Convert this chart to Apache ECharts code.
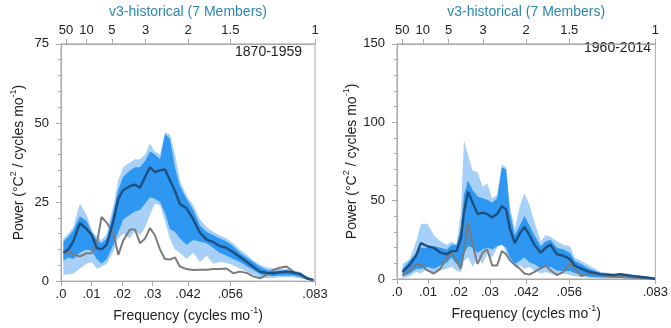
<!DOCTYPE html>
<html>
<head>
<meta charset="utf-8">
<script src="https://cdn.jsdelivr.net/npm/echarts@6/dist/echarts.min.js"></script>
<style>
html, body { margin: 0; padding: 0; background: #fff; }
#main { width: 671px; height: 328px; }
</style>
</head>
<body>
<div id="main"></div>
<script>
// 左图 1870-1959
var freqL = [0.0008, 0.0024, 0.0040, 0.0062, 0.0084, 0.0101, 0.0117, 0.0133, 0.0150, 0.0172,
	0.0188, 0.0204, 0.0226, 0.0243, 0.0259, 0.0276, 0.0292, 0.0308, 0.0325, 0.0341,
	0.0357, 0.0374, 0.0390, 0.0412, 0.0434, 0.0456, 0.0478, 0.0500, 0.0521, 0.0543,
	0.0565, 0.0587, 0.0609, 0.0631, 0.0653, 0.0675, 0.0696, 0.0718, 0.0740, 0.0762,
	0.0784, 0.0806, 0.0828];
var meanL = [9.0, 10.0, 12.5, 18.3, 16.5, 14.5, 10.5, 10.0, 11.5, 19.0,
	26.0, 28.8, 30.0, 30.5, 29.5, 33.0, 36.0, 34.5, 35.0, 35.3,
	32.0, 28.5, 24.4, 23.0, 19.5, 15.3, 13.1, 12.3, 11.1, 10.5,
	9.1, 7.6, 6.1, 4.5, 3.0, 2.6, 2.5, 2.8, 3.0, 2.7,
	2.3, 0.9, 0.3];
var obsL = [9.0, 9.3, 8.5, 7.8, 8.8, 8.8, 11.5, 20.3, 18.5, 15.0,
	8.3, 12.8, 16.3, 16.3, 12.0, 13.5, 16.8, 14.5, 10.0, 7.0,
	6.8, 7.5, 4.6, 3.8, 3.5, 3.6, 3.6, 3.8, 3.8, 4.0,
	2.5, 3.0, 2.6, 1.5, 0.9, 2.0, 3.5, 4.2, 4.6, 3.0,
	1.8, 0.9, 0.3];
var medHiL = [12.5, 14.0, 16.0, 20.5, 19.0, 15.5, 13.0, 12.0, 13.5, 22.0,
	29.0, 33.0, 35.0, 36.0, 36.0, 38.0, 41.0, 40.0, 38.5, 46.5,
	45.0, 36.0, 30.0, 26.0, 22.5, 17.5, 15.5, 14.5, 13.5, 12.5,
	11.0, 9.0, 7.5, 6.0, 4.5, 3.5, 3.2, 3.3, 3.5, 3.0,
	2.6, 1.2, 0.5];
var medLoL = [6.5, 7.5, 7.0, 9.0, 10.0, 9.5, 7.0, 5.5, 7.0, 11.5,
	15.5, 19.5, 21.0, 22.0, 22.5, 24.5, 26.5, 26.0, 25.0, 21.5,
	16.5, 15.5, 13.5, 11.5, 13.0, 12.5, 12.0, 10.5, 9.0, 8.0,
	7.0, 6.0, 4.8, 3.5, 2.2, 1.8, 1.6, 1.8, 1.8, 1.8,
	1.3, 0.6, 0.2];
var lightHiL = [13.5, 15.0, 17.0, 24.5, 21.0, 16.0, 14.0, 13.0, 15.0, 24.0,
	32.0, 36.0, 37.5, 38.5, 38.5, 40.0, 43.5, 41.0, 40.0, 47.0,
	46.5, 40.0, 32.0, 27.0, 24.0, 19.5, 17.0, 15.5, 14.5, 13.5,
	12.0, 10.0, 8.3, 6.5, 5.2, 4.3, 4.0, 3.8, 3.8, 3.4,
	2.9, 1.5, 0.7];
var lightLoL = [2.0, 2.2, 2.3, 4.0, 5.5, 6.0, 4.0, 4.5, 5.5, 9.5,
	13.5, 15.0, 13.5, 16.0, 14.5, 17.0, 21.0, 24.5, 24.0, 19.0,
	13.5, 10.0, 9.0, 7.0, 9.0, 6.0, 8.0, 5.5, 6.0, 5.8,
	5.0, 4.0, 3.0, 2.0, 1.2, 1.0, 1.0, 1.2, 1.2, 1.2,
	0.8, 0.4, 0.1];

// 右图 1960-2014
var freqR = [0.0018, 0.0041, 0.0062, 0.0077, 0.0098, 0.0119, 0.0140, 0.0161, 0.0176, 0.0192,
	0.0206, 0.0216, 0.0229, 0.0244, 0.0260, 0.0276, 0.0291, 0.0307, 0.0323, 0.0338,
	0.0352, 0.0364, 0.0380, 0.0396, 0.0411, 0.0427, 0.0443, 0.0464, 0.0479, 0.0495,
	0.0516, 0.0537, 0.0558, 0.0573, 0.0594, 0.0620, 0.0657, 0.0699, 0.0720, 0.0761,
	0.0803, 0.0832];
var meanR = [4.5, 9.0, 15.0, 22.9, 20.9, 19.9, 16.8, 15.8, 17.8, 17.8,
	26.0, 42.4, 55.7, 48.6, 41.4, 42.4, 41.4, 39.3, 41.4, 46.5,
	44.4, 32.1, 22.9, 29.1, 33.2, 28.1, 21.9, 16.8, 19.9, 21.9,
	15.8, 14.8, 12.7, 8.6, 6.6, 4.5, 3.1, 2.5, 3.1, 1.8,
	1.0, 0.2];
var obsR = [2.5, 5.5, 9.2, 9.2, 5.5, 3.5, 6.6, 13.7, 16.8, 11.7,
	6.6, 17.8, 36.3, 21.9, 9.6, 16.8, 18.9, 8.6, 8.6, 17.8,
	15.8, 12.0, 9.0, 6.6, 3.5, 2.8, 4.5, 7.0, 8.6, 5.5,
	2.5, 4.5, 10.6, 6.6, 1.8, 3.9, 2.5, 1.4, 1.2, 0.8,
	0.5, 0.2];
var medHiR = [6.6, 11.7, 16.8, 19.9, 19.9, 20.9, 19.9, 18.9, 21.9, 21.9,
	32.1, 53.6, 62.8, 56.7, 52.6, 51.6, 50.6, 48.6, 51.6, 71.1,
	70.0, 42.4, 28.1, 34.2, 40.3, 34.2, 28.1, 20.9, 24.0, 25.0,
	19.9, 18.9, 16.8, 11.7, 9.6, 6.6, 3.9, 3.1, 3.5, 2.5,
	1.4, 0.4];
var medLoR = [1.8, 3.5, 6.6, 6.6, 7.6, 6.6, 8.6, 10.6, 13.7, 9.6,
	8.6, 15.8, 20.9, 19.9, 16.8, 18.9, 19.9, 18.9, 20.9, 21.9,
	19.9, 13.7, 9.6, 11.7, 13.7, 10.6, 9.6, 6.6, 7.6, 7.6,
	5.5, 5.1, 5.1, 3.9, 2.5, 1.4, 1.0, 0.8, 1.0, 0.6,
	0.4, 0.1];
var lightHiR = [9.6, 12.7, 24.0, 35.2, 35.2, 28.1, 24.0, 21.9, 24.0, 21.9,
	42.4, 88.5, 79.3, 69.1, 68.1, 58.9, 60.9, 51.6, 53.6, 73.1,
	71.1, 46.5, 32.1, 46.5, 54.7, 47.5, 36.3, 24.0, 28.1, 27.0,
	24.0, 21.9, 20.9, 13.7, 11.7, 8.6, 4.5, 3.5, 3.9, 2.9,
	1.8, 0.4];
var lightLoR = [0.4, 1.8, 4.5, 3.5, 6.6, 3.5, 5.5, 6.6, 7.6, 5.5,
	4.5, 11.7, 13.7, 7.6, 13.7, 9.6, 15.8, 13.7, 19.9, 22.9,
	16.8, 11.7, 7.6, 8.6, 6.6, 7.6, 5.5, 3.5, 4.5, 3.5,
	2.5, 3.5, 2.5, 1.8, 1.4, 0.8, 0.4, 0.4, 0.4, 0.4,
	0.3, 0.1];

// 刻度
var bottomTickVals = [0, 0.01, 0.02, 0.03, 1 / 24, 1 / 18, 1 / 12];
var bottomTickLabels = ['.0', '.01', '.02', '.03', '.042', '.056', '.083'];
var topPeriods = [50, 10, 5, 3, 2, 1.5, 1];   // 周期（年）
var topTickVals = topPeriods.map(function (p) { return 1 / (12 * p); });

var frameColor = '#a9a9a9';
var textColor = '#222';
var font = 'Liberation Sans';

function nearestLabel(v, vals, labels) {
	var best = 0;
	for (var i = 1; i < vals.length; i++) {
		if (Math.abs(vals[i] - v) < Math.abs(vals[best] - v)) best = i;
	}
	return labels[best];
}

function pairs(xs, ys) {
	return xs.map(function (x, i) { return [x, ys[i]]; });
}

function bandData(xs, lo, hi) {
	return xs.map(function (x, i) { return [x, lo[i], hi[i]]; });
}

// 上标用的富文本
var nameRich = {
	t: { fontSize: 14, color: textColor, fontFamily: font, lineHeight: 20 },
	s: { fontSize: 9, color: textColor, fontFamily: font, lineHeight: 9, verticalAlign: 'top' }
};

function bottomAxis(gi) {
	return {
		gridIndex: gi, type: 'value', position: 'bottom', min: 0, max: 1 / 12,
		axisLine: { show: true, lineStyle: { color: frameColor } },
		axisTick: { show: true, length: 5, customValues: bottomTickVals, lineStyle: { color: frameColor } },
		axisLabel: {
			customValues: bottomTickVals, color: textColor, fontSize: 13, fontFamily: font, margin: 7,
			formatter: function (v) { return nearestLabel(v, bottomTickVals, bottomTickLabels); }
		},
		splitLine: { show: false },
		name: '{t|Frequency (cycles mo}{s|-1}{t|)}',
		nameLocation: 'middle', nameGap: 21,
		nameTextStyle: { rich: nameRich }
	};
}

function topAxis(gi) {
	return {
		gridIndex: gi, type: 'value', position: 'top', min: 0, max: 1 / 12,
		axisLine: { show: true, lineStyle: { color: frameColor } },
		axisTick: { show: true, length: 5, customValues: topTickVals, lineStyle: { color: frameColor } },
		axisLabel: {
			customValues: topTickVals, color: textColor, fontSize: 13, fontFamily: font, margin: 7,
			formatter: function (v) { return String(nearestLabel(v, topTickVals, topPeriods)); }
		},
		splitLine: { show: false },
		name: 'v3-historical (7 Members)',
		nameLocation: 'middle', nameGap: 19,
		nameTextStyle: { color: '#2a88ad', fontSize: 14, fontFamily: font }
	};
}

function leftAxis(gi, max, interval, gap) {
	return {
		gridIndex: gi, type: 'value', min: 0, max: max, interval: interval,
		axisLine: { show: true, lineStyle: { color: frameColor } },
		axisTick: { show: true, length: 5, lineStyle: { color: frameColor } },
		minorTick: { show: true, splitNumber: 5, length: 3, lineStyle: { color: frameColor } },
		axisLabel: { color: textColor, fontSize: 13, fontFamily: font, margin: 12 },
		splitLine: { show: false },
		name: '{t|Power (°C}{s|2}{t| / cycles mo}{s|-1}{t|)}',
		nameLocation: 'middle', nameGap: gap,
		nameTextStyle: { rich: nameRich }
	};
}

function band(xi, yi, data, color) {
	return {
		type: 'custom', xAxisIndex: xi, yAxisIndex: yi, silent: true,
		encode: { x: 0, y: [1, 2] },
		data: data,
		renderItem: function (params, api) {
			if (params.dataIndexInside !== 0) return;
			var n = params.dataInsideLength;
			var upper = [], lower = [];
			for (var i = 0; i < n; i++) {
				upper.push(api.coord([api.value(0, i), api.value(2, i)]));
				lower.push(api.coord([api.value(0, i), api.value(1, i)]));
			}
			return {
				type: 'polygon',
				shape: { points: upper.concat(lower.reverse()) },
				style: { fill: color }
			};
		}
	};
}

function line(xi, yi, data, color, width) {
	return {
		type: 'line', xAxisIndex: xi, yAxisIndex: yi, data: data,
		symbol: 'none', silent: true,
		lineStyle: { color: color, width: width }
	};
}

var lightColor = '#a6d0f8';
var medColor = '#2e97f2';
var meanColor = '#1d4f80';
var obsColor = '#7b7b7b';

var myChart = echarts.init(document.getElementById('main'));
var option = {
	animation: false,
	textStyle: { fontFamily: font },
	grid: [
		{ left: 61, top: 38, width: 254, height: 245, show: true, borderColor: frameColor, borderWidth: 1 },
		{ left: 397, top: 35, width: 266, height: 244, show: true, borderColor: frameColor, borderWidth: 1 }
	],
	xAxis: [bottomAxis(0), topAxis(0), bottomAxis(1), topAxis(1)],
	yAxis: [leftAxis(0, 75, 25, 32), leftAxis(1, 150, 50, 35)],
	graphic: [
		{ type: 'text', x: 302, y: 52, style: { text: '1870-1959', align: 'right', verticalAlign: 'middle', font: '14px Liberation Sans', fill: textColor } },
		{ type: 'text', x: 651, y: 48, style: { text: '1960-2014', align: 'right', verticalAlign: 'middle', font: '14px Liberation Sans', fill: textColor } }
	],
	series: [
		band(0, 0, bandData(freqL, lightLoL, lightHiL), lightColor),
		band(0, 0, bandData(freqL, medLoL, medHiL), medColor),
		line(0, 0, pairs(freqL, obsL), obsColor, 2),
		line(0, 0, pairs(freqL, meanL), meanColor, 2.4),
		band(2, 1, bandData(freqR, lightLoR, lightHiR), lightColor),
		band(2, 1, bandData(freqR, medLoR, medHiR), medColor),
		line(2, 1, pairs(freqR, obsR), obsColor, 2),
		line(2, 1, pairs(freqR, meanR), meanColor, 2.4)
	]
};
myChart.setOption(option);
</script>
</body>
</html>
